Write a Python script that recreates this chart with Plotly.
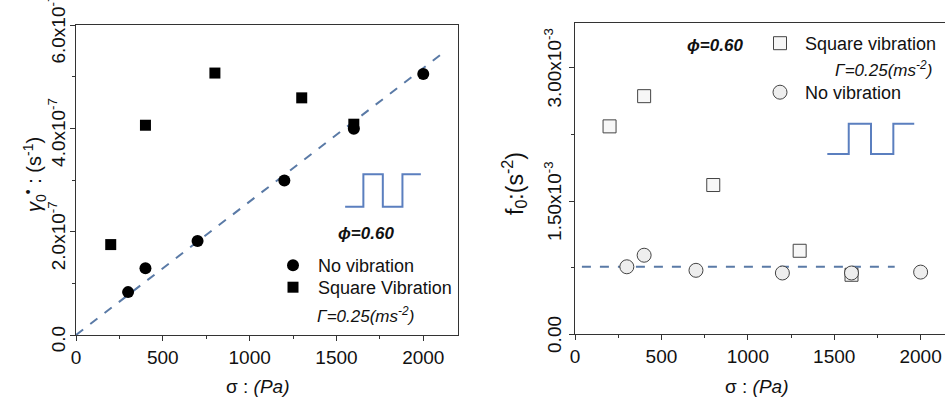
import plotly.graph_objects as go

# ---------------- data ----------------
# left panel: gamma_0 dot vs sigma
left_nv_x = [300, 400, 700, 1200, 1600, 2000]
left_nv_y = [0.83e-7, 1.29e-7, 1.82e-7, 2.99e-7, 3.99e-7, 5.05e-7]
left_sq_x = [200, 400, 800, 1300, 1600]
left_sq_y = [1.75e-7, 4.06e-7, 5.07e-7, 4.59e-7, 4.08e-7]
left_fit_x = [0, 2110]
left_fit_y = [0.0, 5.45e-7]
left_yticks = [0, 2e-7, 4e-7, 6e-7]
left_yticklabels = ["0.0", "2.0x10<sup>-7</sup>", "4.0x10<sup>-7</sup>", "6.0x10<sup>-7</sup>"]

# right panel: f_0 vs sigma
right_sq_x = [200, 400, 800, 1300, 1600]
right_sq_y = [2.34e-3, 2.68e-3, 1.68e-3, 0.94e-3, 0.67e-3]
right_nv_x = [300, 400, 700, 1200, 1600, 2000]
right_nv_y = [0.76e-3, 0.89e-3, 0.72e-3, 0.69e-3, 0.69e-3, 0.70e-3]
right_fit_x = [40, 1850]
right_fit_y = [0.76e-3, 0.76e-3]
right_yticks = [0, 1.5e-3, 3.0e-3]
right_yticklabels = ["0.00", "1.50x10<sup>-3</sup>", "3.00x10<sup>-3</sup>"]

xticks = [0, 500, 1000, 1500, 2000]

FONT = "Arial, Liberation Sans, sans-serif"
LINEC = "#5a7aa6"
WAVEC = "#5b7fbf"

W, H = 945, 399
def px(x):
    return x / W
def py(y):
    return (H - y) / H

fig = go.Figure()

# left
fig.add_trace(go.Scatter(x=left_fit_x, y=left_fit_y, mode="lines",
                         line=dict(color=LINEC, width=2, dash="dash"),
                         showlegend=False, xaxis="x", yaxis="y"))
fig.add_trace(go.Scatter(x=left_nv_x, y=left_nv_y, mode="markers", name="No vibration",
                         marker=dict(symbol="circle", size=12, color="black"),
                         legend="legend", xaxis="x", yaxis="y"))
fig.add_trace(go.Scatter(x=left_sq_x, y=left_sq_y, mode="markers", name="Square Vibration",
                         marker=dict(symbol="square", size=11, color="black"),
                         legend="legend2", xaxis="x", yaxis="y"))

# right
fig.add_trace(go.Scatter(x=right_fit_x, y=right_fit_y, mode="lines",
                         line=dict(color=LINEC, width=2, dash="dash"),
                         showlegend=False, xaxis="x2", yaxis="y2"))
fig.add_trace(go.Scatter(x=right_sq_x, y=right_sq_y, mode="markers", name="Square vibration",
                         marker=dict(symbol="square", size=13, color="#f7f7f7",
                                     line=dict(color="#444", width=1)),
                         legend="legend3", xaxis="x2", yaxis="y2"))
fig.add_trace(go.Scatter(x=right_nv_x, y=right_nv_y, mode="markers", name="No vibration",
                         marker=dict(symbol="circle", size=14, color="#eeeeee",
                                     line=dict(color="#444", width=1)),
                         legend="legend4", xaxis="x2", yaxis="y2"))

axis_common = dict(showline=True, linecolor="#333", linewidth=1, ticks="outside",
                   ticklen=5, tickcolor="#333", showgrid=False, zeroline=False,
                   automargin=False, ticklabeloverflow="allow")
xtickfont = dict(family=FONT, size=19, color="#111")
ytickfont = dict(family=FONT, size=19, color="#111")

def leg(x, y):
    return dict(x=px(x), y=py(y), xanchor="left", yanchor="top", itemwidth=40,
                bgcolor="rgba(0,0,0,0)", font=dict(family=FONT, size=18, color="#111"),
                itemsizing="trace")

fig.update_layout(
    width=W, height=H,
    margin=dict(l=0, r=0, t=0, b=0, autoexpand=False),
    paper_bgcolor="white", plot_bgcolor="white",
    font=dict(family=FONT, size=18, color="#111"),
    xaxis=dict(domain=[px(76), px(458)], range=[0, 2200], anchor="y",
               tickvals=xticks, mirror=True, tickfont=xtickfont,
               minor=dict(ticks="outside", ticklen=3, dtick=250, tickcolor="#333"),
               **axis_common),
    yaxis=dict(domain=[py(335), py(25)], range=[0, 6e-7], anchor="x",
               tickvals=left_yticks, ticktext=left_yticklabels, tickangle=-90,
               mirror=True, ticklabelstandoff=-3, ticklabelshift=7, tickfont=ytickfont,
               minor=dict(ticks="outside", ticklen=3, dtick=1e-7, tickcolor="#333"),
               **axis_common),
    xaxis2=dict(domain=[px(575), 1.0], range=[0, 2141], anchor="y2",
                tickvals=xticks, mirror=True, tickfont=xtickfont,
                minor=dict(ticks="outside", ticklen=3, dtick=250, tickcolor="#333"),
                **axis_common),
    yaxis2=dict(domain=[py(334.3), py(23.3)], range=[0, 3.5e-3], anchor="x2",
                tickvals=right_yticks, ticktext=right_yticklabels, tickangle=-90,
                mirror=False, ticklabelshift=3, tickfont=ytickfont,
                minor=dict(ticks="outside", ticklen=3, dtick=0.75e-3, tickcolor="#333"),
                **axis_common),
    legend=leg(268, 247),
    legend2=leg(268, 269),
    legend3=leg(755, 25),
    legend4=leg(755, 74),
)

# square-wave insets
def wave_path(x0, x1, x2, x3, x4, ylo, yhi):
    return (f"M {x0} {ylo} L {x1} {ylo} L {x1} {yhi} L {x2} {yhi} L {x2} {ylo} "
            f"L {x3} {ylo} L {x3} {yhi} L {x4} {yhi}")

fig.add_shape(type="path", xref="x", yref="y",
              path=wave_path(1550, 1655, 1767, 1880, 1986, 2.48e-7, 3.11e-7),
              line=dict(color=WAVEC, width=2))
fig.add_shape(type="path", xref="x2", yref="y2",
              path=wave_path(1460, 1584, 1713, 1842, 1963, 2.03e-3, 2.37e-3),
              line=dict(color=WAVEC, width=2))

def note(text, x, y, size, xanchor="center", angle=0):
    return dict(text=text, x=px(x), y=py(y), xref="paper", yref="paper",
                xanchor=xanchor, yanchor="middle", showarrow=False,
                textangle=angle, font=dict(size=size))

ann = [
    note("σ : <i>(Pa)</i>", 257, 386, 19),
    note("σ : <i>(Pa)</i>", 756, 386, 19),
    note("<i>γ</i><sub>0</sub><sup>•</sup> : (s<sup>-1</sup>)", 34, 175, 20, angle=-90),
    note("f<sub>0</sub>:(s<sup>-2</sup>)", 514, 184, 23, angle=-90),
    note("<b><i>ϕ=0.60</i></b>", 366, 233, 17),
    note("<b><i>ϕ=0.60</i></b>", 715, 45, 17),
    note("<i>Γ=0.25(ms<sup>-2</sup>)</i>", 315, 315, 17, xanchor="left"),
    note("<i>Γ=0.25(ms<sup>-2</sup>)</i>", 833, 69, 17, xanchor="left"),
]
fig.update_layout(annotations=ann)

fig.write_html("out.html", config={"displayModeBar": False},
               post_script="document.body.style.margin='0';document.body.style.overflow='hidden';")
